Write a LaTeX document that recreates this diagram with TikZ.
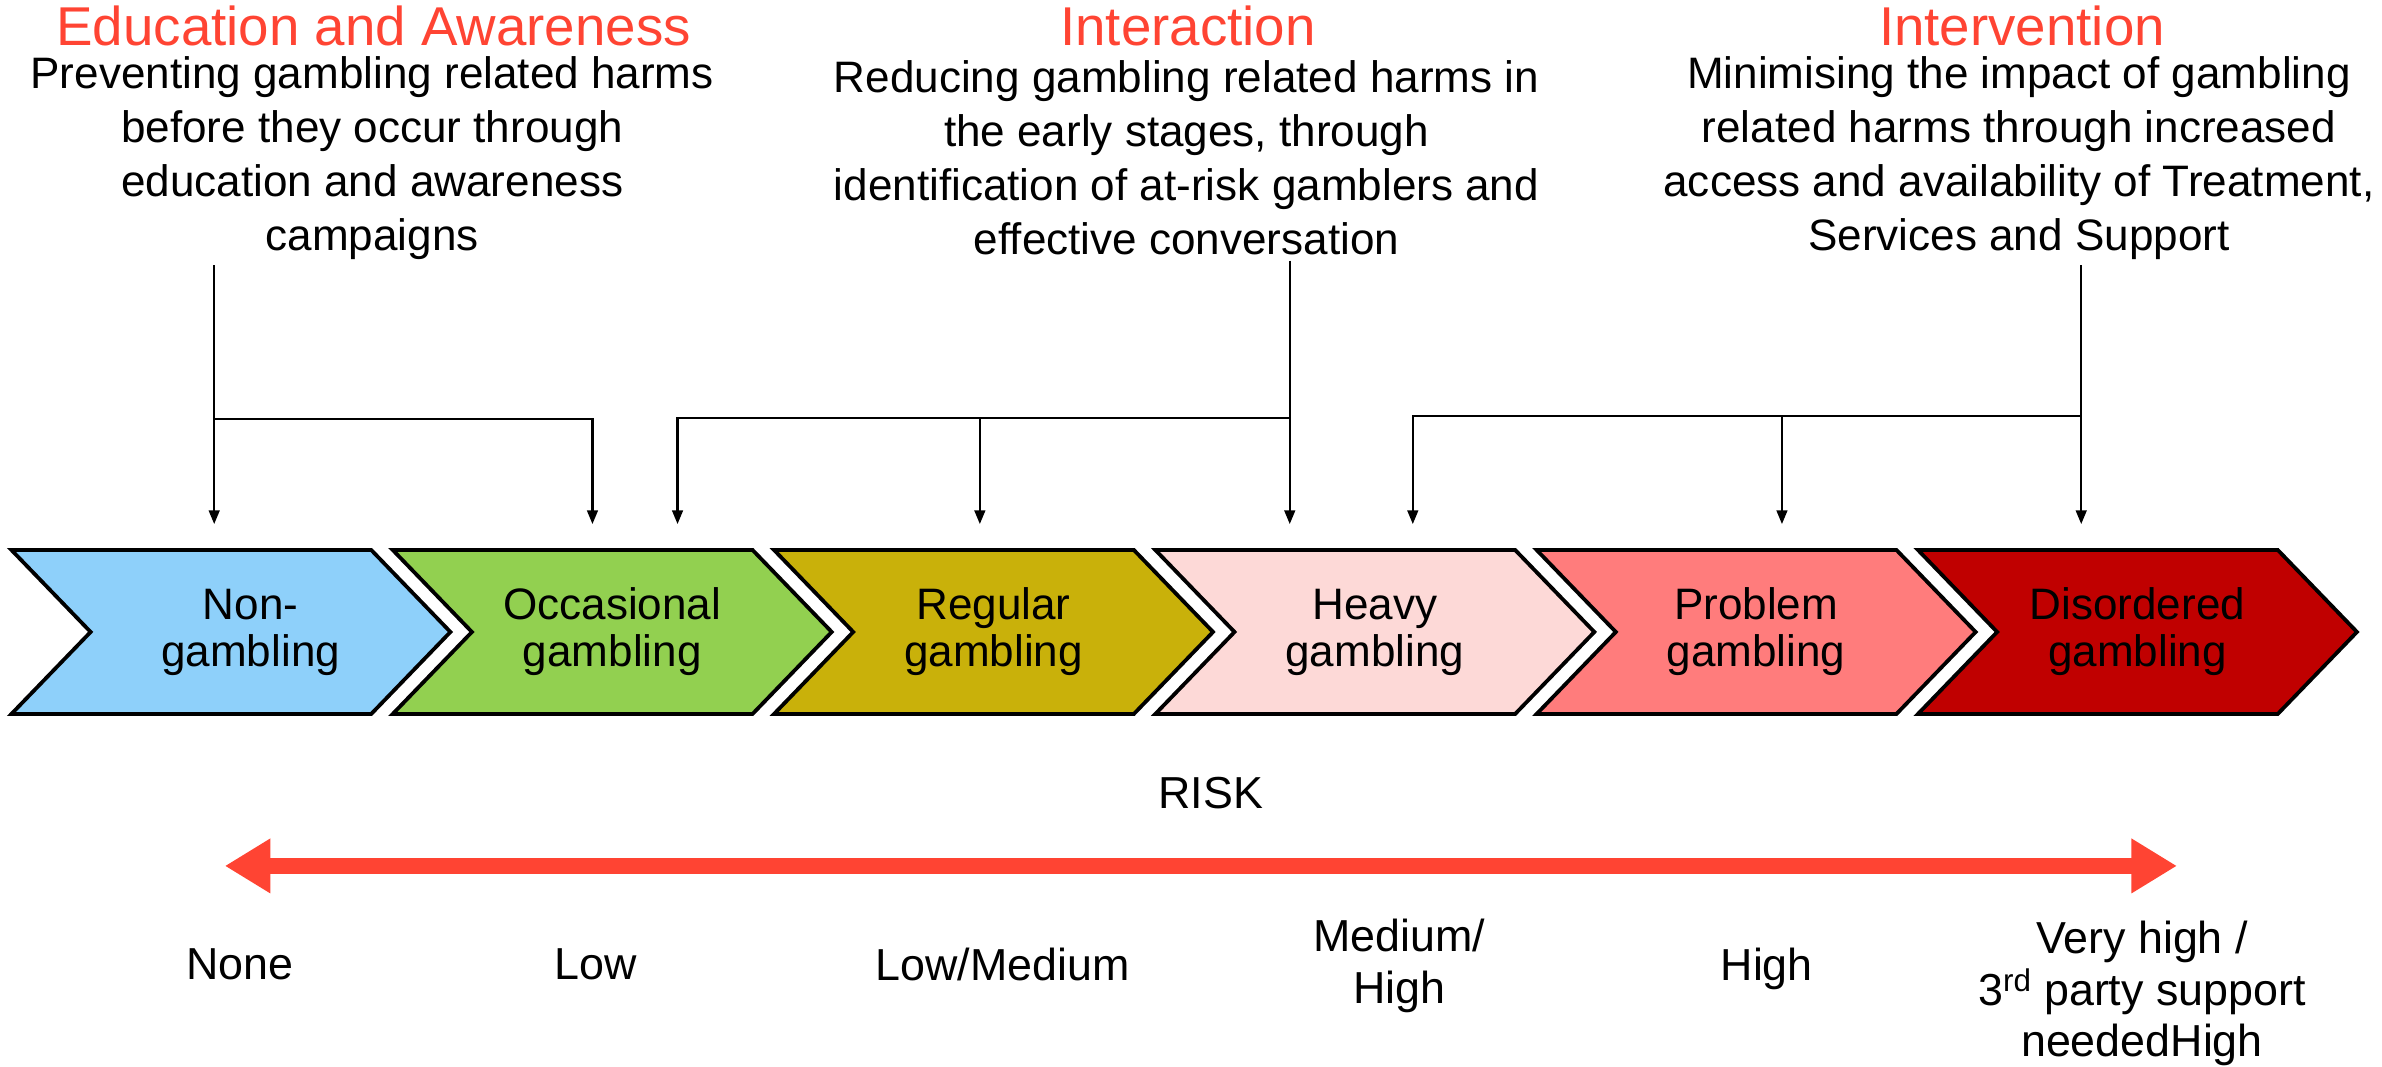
\documentclass[tikz,border=0pt]{standalone}
\usepackage{fontspec}
\setmainfont{Liberation Sans}
\usetikzlibrary{positioning, shapes.symbols, arrows.meta}
\definecolor{riskred}{RGB}{255,68,51}
\definecolor{nonblue}{RGB}{142,208,250}
\definecolor{occgreen}{RGB}{146,208,80}
\definecolor{regolive}{RGB}{201,177,10}
\definecolor{heavypink}{RGB}{253,217,215}
\definecolor{probsalmon}{RGB}{255,124,124}
\definecolor{disred}{RGB}{192,0,0}

\begin{document}
\begin{tikzpicture}[x=1pt, y=-1pt, node distance=251pt, on grid,
  stage/.style={signal, signal from=west, signal to=east, signal pointer angle=92,
    draw=black, line width=2.5pt, minimum width=289pt, minimum height=108pt,
    inner sep=0pt, align=center, font=\fontsize{29}{31}\selectfont},
  head/.style={text=riskred, font=\fontsize{36}{44}\selectfont},
  blurb/.style={align=center, font=\fontsize{29}{35.6}\selectfont},
  level/.style={align=center, font=\fontsize{29.5}{34}\selectfont},
  link/.style={line width=1.5pt, -{Triangle[length=9pt,width=7pt]}}]

   \useasboundingbox (0,0) rectangle (1568,702);

   % the six stages
   \node[stage, fill=nonblue] (s1) at (152,416) {\hspace*{26pt}Non-\\\hspace*{26pt}gambling};
   \node[stage, fill=occgreen] (s2) [right=of s1] {Occasional\\gambling};
   \node[stage, fill=regolive] (s3) [right=of s2] {Regular\\gambling};
   \node[stage, fill=heavypink] (s4) [right=of s3] {Heavy\\gambling};
   \node[stage, fill=probsalmon] (s5) [right=of s4] {Problem\\gambling};
   \node[stage, fill=disred] (s6) [right=of s5] {Disordered\\gambling};

   % headings
   \node[head] (t1) at (246,17) {Education and Awareness};
   \node[head] (t2) at (782,17) {Interaction};
   \node[head] (t3) at (1331,17) {Intervention};

   \node[blurb] (b1) at (245,104) {Preventing gambling related harms\\before they occur through\\education and awareness\\campaigns};
   \node[blurb] (b2) at (781,104) {Reducing gambling related harms in\\the early stages, through\\identification of at-risk gamblers and\\effective conversation};
   \node[blurb] (b3) at (1329,104) {Minimising the impact of gambling\\related harms through increased\\access and availability of Treatment,\\Services and Support};

   % arrow ends and junctions
   \coordinate (a1) at (141,345);
   \coordinate (a2) at (390,345);
   \coordinate (a3) at (446,345);
   \coordinate (a4) at (645,345);
   \coordinate (a5) at (849,345);
   \coordinate (a6) at (930,345);
   \coordinate (a7) at (1173,345);
   \coordinate (a8) at (1370,345);
   \coordinate (j1) at (141,276);
   \coordinate (j2) at (849,275);
   \coordinate (j3) at (1370,274);

   \draw[link] (a1 |- b1.south) -- (a1);
   \draw[link] (j1) -| (a2);
   \draw[link] (a5 |- b2.south) -- (a5);
   \draw[link] (j2) -| (a3);
   \draw[link] (a4 |- j2) -- (a4);
   \draw[link] (a8 |- b3.south) -- (a8);
   \draw[link] (j3) -| (a6);
   \draw[link] (a7 |- j3) -- (a7);

   % risk scale
   \node[level] (risk) at (797,522) {RISK};
   \coordinate (rl) at (148,570);
   \coordinate (rr) at (1433,570);
   \draw[riskred, line width=10pt, {Triangle[length=30pt,width=34pt]}-{Triangle[length=30pt,width=34pt]}] (rl) -- (rr);

   \node[level] (r1) at (158,635) {None};
   \node[level] (r2) at (392,635) {Low};
   \node[level] (r3) at (660,635) {Low/Medium};
   \node[level] (r4) at (921,636) {Medium/\\High};
   \node[level] (r5) at (1163,638) {High};
   \node[level] (r6) at (1410,654) {Very high /\\3\textsuperscript{rd} party support\\neededHigh};
\end{tikzpicture}
\end{document}
